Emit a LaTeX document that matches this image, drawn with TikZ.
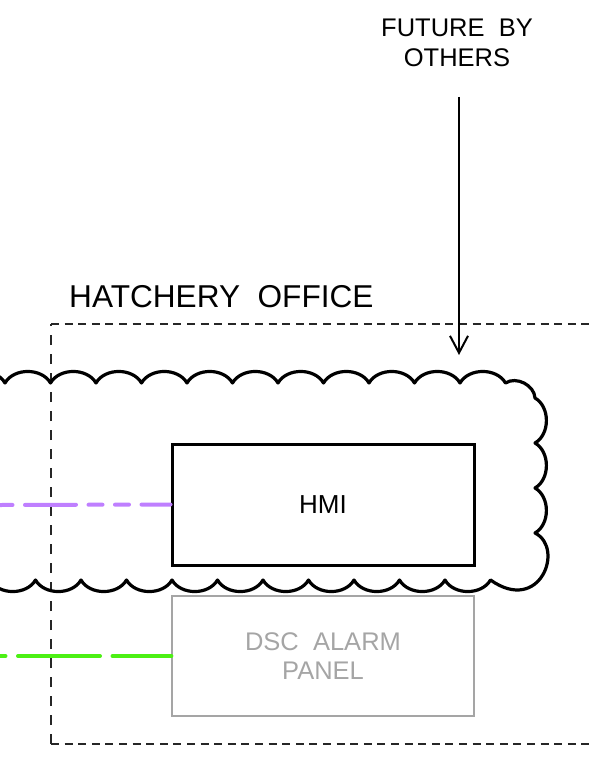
\documentclass[tikz,border=0pt]{standalone}
\usepackage{fontspec}
\setmainfont{Liberation Sans}
\usepackage{xcolor}
\usetikzlibrary{arrows.meta,positioning}
\definecolor{plcpurple}{RGB}{191,127,255}
\definecolor{alarmgreen}{RGB}{76,240,20}
\definecolor{existgray}{RGB}{165,165,165}
\tikzset{
  cadtext/.style={inner sep=0pt, font=\fontsize{26}{30}\selectfont},
  hmibox/.style={draw, line width=3pt, minimum width=302pt, minimum height=121pt, cadtext},
  panelbox/.style={draw=existgray, text=existgray, line width=1.3pt, minimum width=302pt, minimum height=120pt, align=center, cadtext, font=\fontsize{25.5}{29}\selectfont},
  cloudline/.style={line width=3.2pt, line join=round},
  roomline/.style={line width=1.2pt, black!85},
  arrow/.style={-{Straight Barb[length=17pt,width=18pt]}, line width=2pt},
  ethline/.style={plcpurple, line width=4pt, line cap=round, dash pattern=on 51pt off 12.5pt on 14pt off 12.5pt on 14pt off 12.5pt, dash phase=91.5pt},
  alarmline/.style={alarmgreen, line width=4pt, line cap=round, dash pattern=on 82pt off 12.5pt, dash phase=76.5pt}
}

\begin{document}
\begin{tikzpicture}[x=1pt, y=-1pt]
  \useasboundingbox (0,0) rectangle (589,759);
  \clip (0,0) rectangle (589,759);

  % room outline
  \coordinate (roomnw) at (51,324);
  \coordinate (roomsw) at (51,744);
  \draw[roomline, dash pattern=on 8pt off 5.6pt] (roomnw) -- (600,324);
  \draw[roomline, dash pattern=on 8pt off 5.6pt] (roomsw) -- (600,744);
  \draw[roomline, dash pattern=on 10.5pt off 8.5pt] (roomsw) -- (roomnw);
  \node[cadtext, anchor=base west, font=\fontsize{31.6}{36}\selectfont] (office) at (69,307) {HATCHERY~~OFFICE};

  % revision cloud
  \draw[cloudline] (-40.5,383)
    \foreach \k in {0,...,11} { to[bend left=60] ({5+45.5*\k},383) }
    to[bend left=60] (535,398)
    to[bend left=60] (535,443)
    to[bend left=60] (535,488)
    to[bend left=60] (535,533)
    .. controls (565,548) and (540,615) .. (490.5,580)
    \foreach \k in {1,...,12} { to[bend left=60] ({490.5-45.5*\k},580) };

  % equipment
  \node[hmibox] (hmi) at (323,504.5) {HMI};
  \node[panelbox] (panel) at (323,656) {DSC~~ALARM\\PANEL};
  \coordinate (ethin) at (0,505);
  \coordinate (alarmin) at (0,656);
  \draw[ethline] (ethin) -- (hmi.west);
  \draw[alarmline] (alarmin) -- (panel.west);

  % note
  \node[cadtext, anchor=south, align=center, font=\fontsize{25.5}{30}\selectfont] (future) at (457,67) {FUTURE~~BY\\OTHERS};
  \coordinate (tip) at (459,355);
  \draw[arrow] (future.south) ++(2,30) -- (tip);
\end{tikzpicture}
\end{document}
